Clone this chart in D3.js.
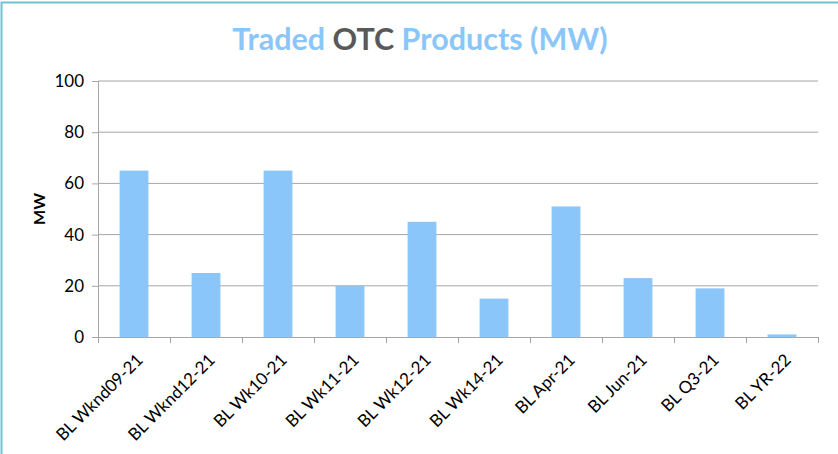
<!DOCTYPE html>
<html>
<head>
<meta charset="utf-8">
<script src="https://cdn.jsdelivr.net/npm/d3@7"></script>
<style>
  body { margin: 0; background: #fff; }
  svg { display: block; font-family: Lato, "Open Sans", sans-serif; }
</style>
</head>
<body>
<div id="chart"></div>
<script>
// data
const products = ["BL Wknd09-21", "BL Wknd12-21", "BL Wk10-21", "BL Wk11-21", "BL Wk12-21",
                  "BL Wk14-21", "BL Apr-21", "BL Jun-21", "BL Q3-21", "BL YR-22"];
const volumes = [65, 25, 65, 20, 45, 15, 51, 23, 19, 1];
const yTicks = [0, 20, 40, 60, 80, 100];

const W = 838, H = 454;
const margin = {top: 81, right: 20, bottom: 117, left: 98};
const width = 818 - margin.left, height = 337 - margin.top;

const svg = d3.select("#chart").append("svg")
  .attr("width", W).attr("height", H);

// outer frame (only top and left visible)
svg.append("path")
  .attr("d", `M1.5,${H} V2.5 H${W}`)
  .attr("fill", "none").attr("stroke", "#6cc4cf").attr("stroke-width", 2);

const g = svg.append("g").attr("transform", `translate(${margin.left},${margin.top})`);

const x = d3.scaleBand().domain(products).range([0, width]).paddingInner(0.6).paddingOuter(0.3);
const y = d3.scaleLinear().domain([0, 100]).range([height, 0]);

// grid
g.append("g").selectAll("line").data(yTicks.slice(1)).join("line")
  .attr("x1", 0).attr("x2", width)
  .attr("y1", d => y(d)).attr("y2", d => y(d))
  .attr("stroke", "#a6a6a6").attr("stroke-width", 1);

// bars
g.append("g").selectAll("rect").data(volumes).join("rect")
  .attr("x", (d, i) => x(products[i]))
  .attr("y", d => y(d))
  .attr("width", x.bandwidth())
  .attr("height", d => height - y(d))
  .attr("fill", "#8ac6f9");

// y axis
const yAxis = g.append("g")
  .call(d3.axisLeft(y).tickValues(yTicks).tickSize(6).tickPadding(8));
yAxis.select(".domain").attr("stroke", "#a6a6a6").attr("d", `M0.5,0V${height}`);
yAxis.selectAll(".tick line").attr("stroke", "#a6a6a6");
yAxis.selectAll("text").attr("font-size", 17).attr("fill", "#000").attr("font-family", "Lato, sans-serif");

// x axis
const xAxis = g.append("g").attr("transform", `translate(0,${height})`)
  .call(d3.axisBottom(x).tickSize(0).tickFormat(""));
xAxis.select(".domain").attr("stroke", "#a6a6a6").attr("d", `M0,0.5H${width}`);
// category boundary ticks
xAxis.append("g").selectAll("line").data(d3.range(products.length + 1)).join("line")
  .attr("x1", i => i * width / products.length + 0.5)
  .attr("x2", i => i * width / products.length + 0.5)
  .attr("y1", 0).attr("y2", 6)
  .attr("stroke", "#a6a6a6");

g.append("g").selectAll("text").data(products).join("text")
  .attr("transform", d => `translate(${x(d) + x.bandwidth() / 2 + 10},${height + 24}) rotate(-45)`)
  .attr("text-anchor", "end")
  .attr("font-size", 17)
  .attr("fill", "#000")
  .text(d => d);

// y label
svg.append("text")
  .attr("transform", `translate(45,${margin.top + height / 2}) rotate(-90)`)
  .attr("text-anchor", "middle")
  .attr("font-size", 16).attr("font-weight", "bold")
  .text("MW");

// title
const title = svg.append("text")
  .attr("x", 420).attr("y", 50)
  .attr("text-anchor", "middle")
  .attr("font-size", 30.5).attr("font-weight", "bold")
  .attr("fill", "#8ac6f9");
title.append("tspan").text("Traded ");
title.append("tspan").attr("fill", "#595959").text("OTC");
title.append("tspan").text(" Products (MW)");
</script>
</body>
</html>
